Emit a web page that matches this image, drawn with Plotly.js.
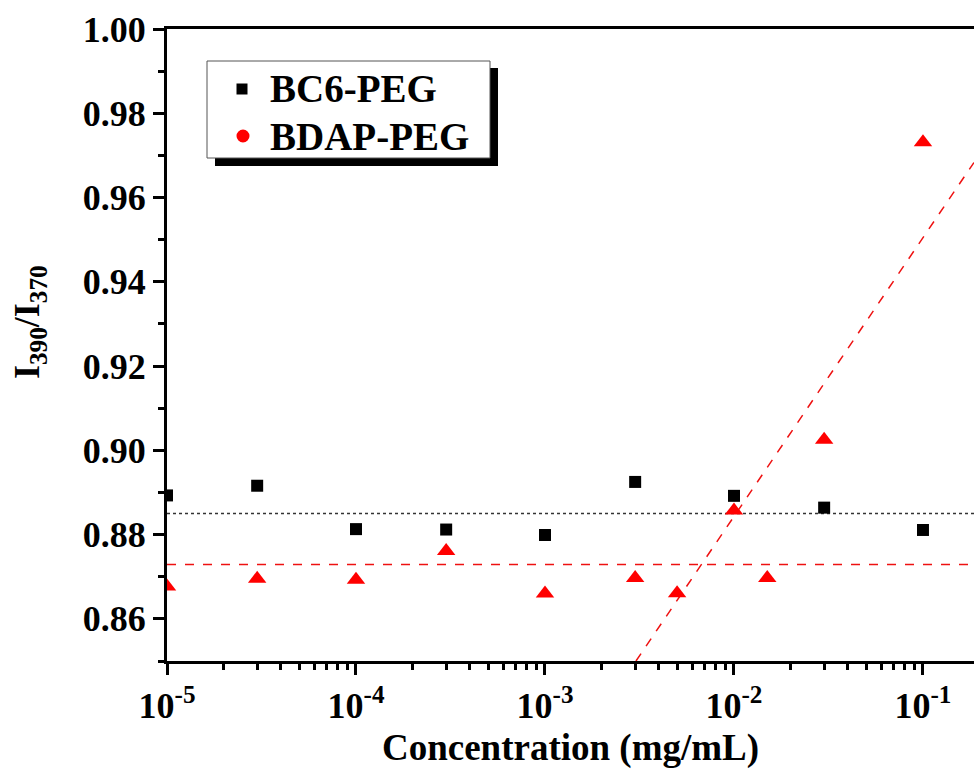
<!DOCTYPE html>
<html>
<head>
<meta charset="utf-8">
<script src="https://cdn.plot.ly/plotly-2.35.2.min.js"></script>
<style>html,body{margin:0;padding:0;background:#fff;}#chart{width:974px;height:778px;}</style>
</head>
<body>
<div id="chart"></div>
<script>
// Data
const bc6Conc = [1e-5, 3e-5, 1e-4, 3e-4, 1e-3, 3e-3, 1e-2, 3e-2, 1e-1];
const bc6Ratio = [0.8893, 0.8916, 0.8813, 0.8812, 0.8799, 0.8925, 0.8892, 0.8864, 0.8811];
const bdapConc = [1e-5, 3e-5, 1e-4, 3e-4, 1e-3, 3e-3, 5e-3, 1e-2, 1.5e-2, 3e-2, 1e-1];
const bdapRatio = [0.8677, 0.8695, 0.8693, 0.8761, 0.8660, 0.8697, 0.8661, 0.8857, 0.8697, 0.9025, 0.9731];
const bc6FlatX = [1e-5, 0.2];
const bc6FlatY = [0.8850, 0.8850];
const bdapFlatX = [1e-5, 0.2];
const bdapFlatY = [0.8729, 0.8729];
const bdapRiseX = [0.00303, 0.186];
const bdapRiseY = [0.8500, 0.9683];
const xTickVals = [1e-5, 1e-4, 1e-3, 1e-2, 1e-1];
const xTickText = ['10<sup>-5</sup>', '10<sup>-4</sup>', '10<sup>-3</sup>', '10<sup>-2</sup>', '10<sup>-1</sup>'];
const seriesNames = ['BC6-PEG', 'BDAP-PEG'];
const xTitle = 'Concentration (mg/mL)';
const yTitle = 'I<sub>390</sub>/I<sub>370</sub>';

const F = 'Liberation Serif, Times New Roman, serif';

// plot area geometry (px) for paper-coordinate decorations
const L = 167, T = 29, W = 807, H = 632;
const px = v => (v - L) / W;
const py = v => (T + H - v) / H;

const traces = [
  {x: bc6FlatX, y: bc6FlatY, mode: 'lines', line: {color: '#333', width: 1.5, dash: 'dot'}, showlegend: false, hoverinfo: 'skip'},
  {x: bdapFlatX, y: bdapFlatY, mode: 'lines', line: {color: '#ee1111', width: 1.5, dash: 'dash'}, showlegend: false, hoverinfo: 'skip'},
  {x: bdapRiseX, y: bdapRiseY, mode: 'lines', line: {color: '#ee1111', width: 1.5, dash: 'dash'}, showlegend: false, hoverinfo: 'skip'},
  {x: bc6Conc, y: bc6Ratio, name: seriesNames[0], mode: 'markers', marker: {symbol: 'square', size: 12, color: '#000'}, showlegend: false},
  {x: bdapConc, y: bdapRatio, name: seriesNames[1], mode: 'markers', marker: {symbol: 'triangle-up', size: 16, color: '#ff0000'}, showlegend: false}
];

const layout = {
  width: 974, height: 778,
  margin: {l: L, r: 974 - L - W, t: T, b: 778 - T - H},
  paper_bgcolor: '#fff', plot_bgcolor: '#fff',
  font: {family: F, color: '#000', size: 36},
  showlegend: false,
  xaxis: {
    type: 'log', range: [-5, -0.73],
    showgrid: false, zeroline: false,
    showline: true, linecolor: '#000', linewidth: 3, mirror: true,
    ticks: 'outside', ticklen: 11, tickwidth: 3, tickcolor: '#000',
    tickmode: 'array', tickvals: xTickVals, ticktext: xTickText,
    tickfont: {family: F, size: 36, weight: 'bold'},
    minor: {ticks: 'outside', ticklen: 6, tickwidth: 3, tickcolor: '#000', dtick: 'D1', showgrid: false},
    title: {text: xTitle, font: {family: F, size: 37, weight: 'bold'}, standoff: 9}
  },
  yaxis: {
    range: [0.85, 1.0],
    showgrid: false, zeroline: false,
    showline: true, linecolor: '#000', linewidth: 3, mirror: false,
    ticks: 'outside', ticklen: 11, tickwidth: 3, tickcolor: '#000',
    tickmode: 'linear', tick0: 0.86, dtick: 0.02, tickformat: '.2f',
    tickfont: {family: F, size: 36, weight: 'bold'},
    minor: {ticks: 'outside', ticklen: 6, tickwidth: 3, tickcolor: '#000', tick0: 0.85, dtick: 0.01, showgrid: false}
  },
  shapes: [
    // legend shadow and frame
    {type: 'rect', xref: 'paper', yref: 'paper', layer: 'above',
     x0: px(215), x1: px(498), y0: py(166), y1: py(68), fillcolor: '#000', line: {width: 0}},
    {type: 'rect', xref: 'paper', yref: 'paper', layer: 'above',
     x0: px(207), x1: px(490), y0: py(158), y1: py(61), fillcolor: '#fff', line: {color: '#555', width: 1}},
    // legend symbols
    {type: 'rect', xref: 'paper', yref: 'paper', layer: 'above',
     x0: px(236.5), x1: px(247.5), y0: py(94.5), y1: py(83.5), fillcolor: '#000', line: {width: 0}},
    {type: 'circle', xref: 'paper', yref: 'paper', layer: 'above',
     x0: px(236.5), x1: px(249.5), y0: py(142.5), y1: py(129.5), fillcolor: '#ff0000', line: {width: 0}}
  ],
  annotations: [
    {xref: 'paper', yref: 'paper', x: px(268), y: py(89), xanchor: 'left', yanchor: 'middle', showarrow: false,
     text: seriesNames[0], font: {family: F, size: 39, weight: 'bold', color: '#000'}},
    {xref: 'paper', yref: 'paper', x: px(268), y: py(136), xanchor: 'left', yanchor: 'middle', showarrow: false,
     text: seriesNames[1], font: {family: F, size: 39, weight: 'bold', color: '#000'}},
    {xref: 'paper', yref: 'paper', x: px(29), y: py(322), xanchor: 'center', yanchor: 'middle', showarrow: false,
     textangle: -90, text: yTitle, font: {family: F, size: 36, weight: 'bold', color: '#000'}}
  ]
};

Plotly.newPlot('chart', traces, layout, {displayModeBar: false, staticPlot: true});
</script>
</body>
</html>
